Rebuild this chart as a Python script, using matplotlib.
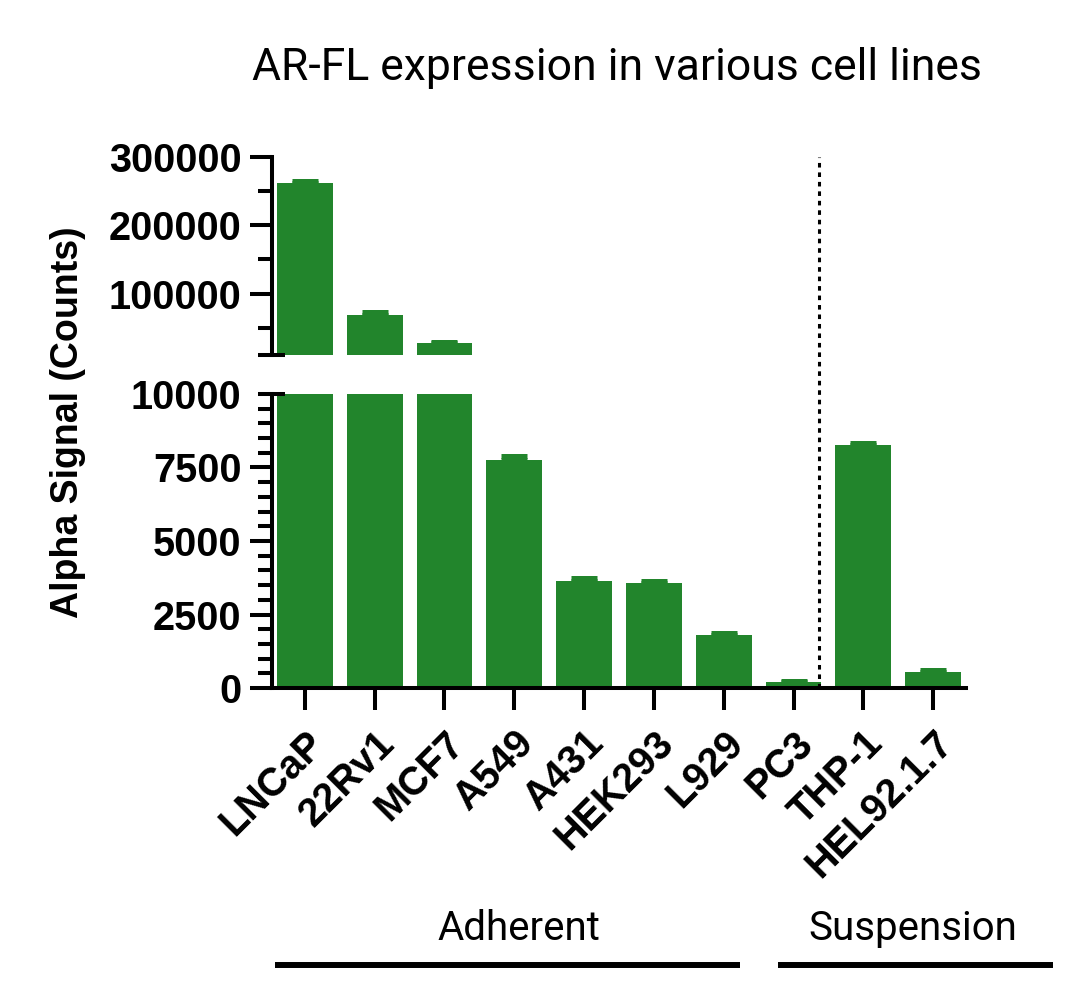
import matplotlib
matplotlib.use("Agg")
import matplotlib.pyplot as plt
from matplotlib.lines import Line2D
from matplotlib.ticker import MultipleLocator

# data
cell_lines = ["LNCaP", "22Rv1", "MCF7", "A549", "A431", "HEK293", "L929", "PC3", "THP-1", "HEL92.1.7"]
signal = [261600, 69300, 27000, 7750, 3630, 3560, 1790, 190, 8260, 530]
signal_upper = [265300, 73000, 29100, 7890, 3750, 3630, 1860, 250, 8350, 600]
groups = ["Adherent", "Suspension"]

GREEN = "#22852c"
W, H, DPI = 1080, 990, 100
LW = 2.9
BREAK = 10000

plt.rcParams["font.family"] = ["Liberation Sans", "DejaVu Sans"]

fig = plt.figure(figsize=(W / DPI, H / DPI), dpi=DPI)

def fx(px):
    return px / W

def fy(py):
    return 1 - py / H

left, right = fx(272), fx(966)
ax_top = fig.add_axes([left, fy(355), right - left, fy(157) - fy(355)])
ax_bot = fig.add_axes([left, fy(688), right - left, fy(394) - fy(688)])

x = list(range(len(cell_lines)))

for ax, in_range in ((ax_top, lambda v: v > BREAK), (ax_bot, lambda v: v <= BREAK)):
    ax.bar(x, signal, width=0.8, color=GREEN, zorder=2)
    idx = [i for i in x if in_range(signal[i])]
    ax.errorbar([x[i] for i in idx], [signal[i] for i in idx],
                yerr=[[0] * len(idx), [signal_upper[i] - signal[i] for i in idx]],
                fmt="none", ecolor=GREEN, elinewidth=1.2, capsize=9.7, capthick=3.6, zorder=3)
    ax.set_xlim(-0.47, 9.47)
    for s in ("top", "right"):
        ax.spines[s].set_visible(False)
    ax.spines["left"].set_linewidth(LW)
    ax.spines["bottom"].set_linewidth(LW)
    ax.tick_params(axis="y", which="major", length=16, width=LW, pad=6, labelsize=28.5)
    ax.tick_params(axis="y", which="minor", length=10, width=LW)

# upper part of broken axis
ax_top.set_ylim(BREAK, 300000)
ax_top.set_yticks([100000, 200000, 300000])
ax_top.yaxis.set_minor_locator(MultipleLocator(50000))
ax_top.spines["bottom"].set_visible(False)
ax_top.set_xticks([])

# lower part
ax_bot.set_ylim(0, BREAK)
ax_bot.set_yticks([0, 2500, 5000, 7500, 10000])
ax_bot.yaxis.set_minor_locator(MultipleLocator(500))
ax_bot.yaxis.get_major_ticks()[-1].tick1line.set_visible(False)
ax_bot.set_xticks(x)
ax_bot.set_xticklabels(cell_lines, rotation=45, ha="right", va="top",
                       rotation_mode="anchor", fontsize=28.5, fontweight="bold")
ax_bot.tick_params(axis="x", length=16, width=LW, pad=10)

for ax in (ax_top, ax_bot):
    for lab in ax.get_yticklabels():
        lab.set_fontweight("bold")

# break caps across the left spine
for py in (355, 394):
    fig.add_artist(Line2D([fx(258), fx(285)], [fy(py), fy(py)], lw=LW, color="black",
                          solid_capstyle="butt"))

# dashed separator between adherent and suspension lines
ax_bot.axvline(7.37, ymin=0, ymax=(688 - 157) / (688 - 394), color="black",
               lw=2.2, linestyle=(0, (1.5, 1.6)), clip_on=False, zorder=4)

fig.text(fx(68), fy(422), "Alpha Signal (Counts)", rotation=90, ha="center", va="center",
         fontsize=27, fontweight="bold")
fig.text(fx(617), fy(68), "AR-FL expression in various cell lines", ha="center", va="center",
         fontsize=32, family=["Roboto", "DejaVu Sans"])

# group brackets below the axis
fig.text(fx(519), fy(928), groups[0], ha="center", va="center", fontsize=29,
         family=["Roboto", "DejaVu Sans"])
fig.text(fx(913), fy(928), groups[1], ha="center", va="center", fontsize=29,
         family=["Roboto", "DejaVu Sans"])
fig.add_artist(Line2D([fx(275), fx(740)], [fy(965), fy(965)], lw=4.3, color="black",
                      solid_capstyle="butt"))
fig.add_artist(Line2D([fx(778), fx(1053)], [fy(965), fy(965)], lw=4.3, color="black",
                      solid_capstyle="butt"))

fig.savefig("out.png", dpi=DPI)
